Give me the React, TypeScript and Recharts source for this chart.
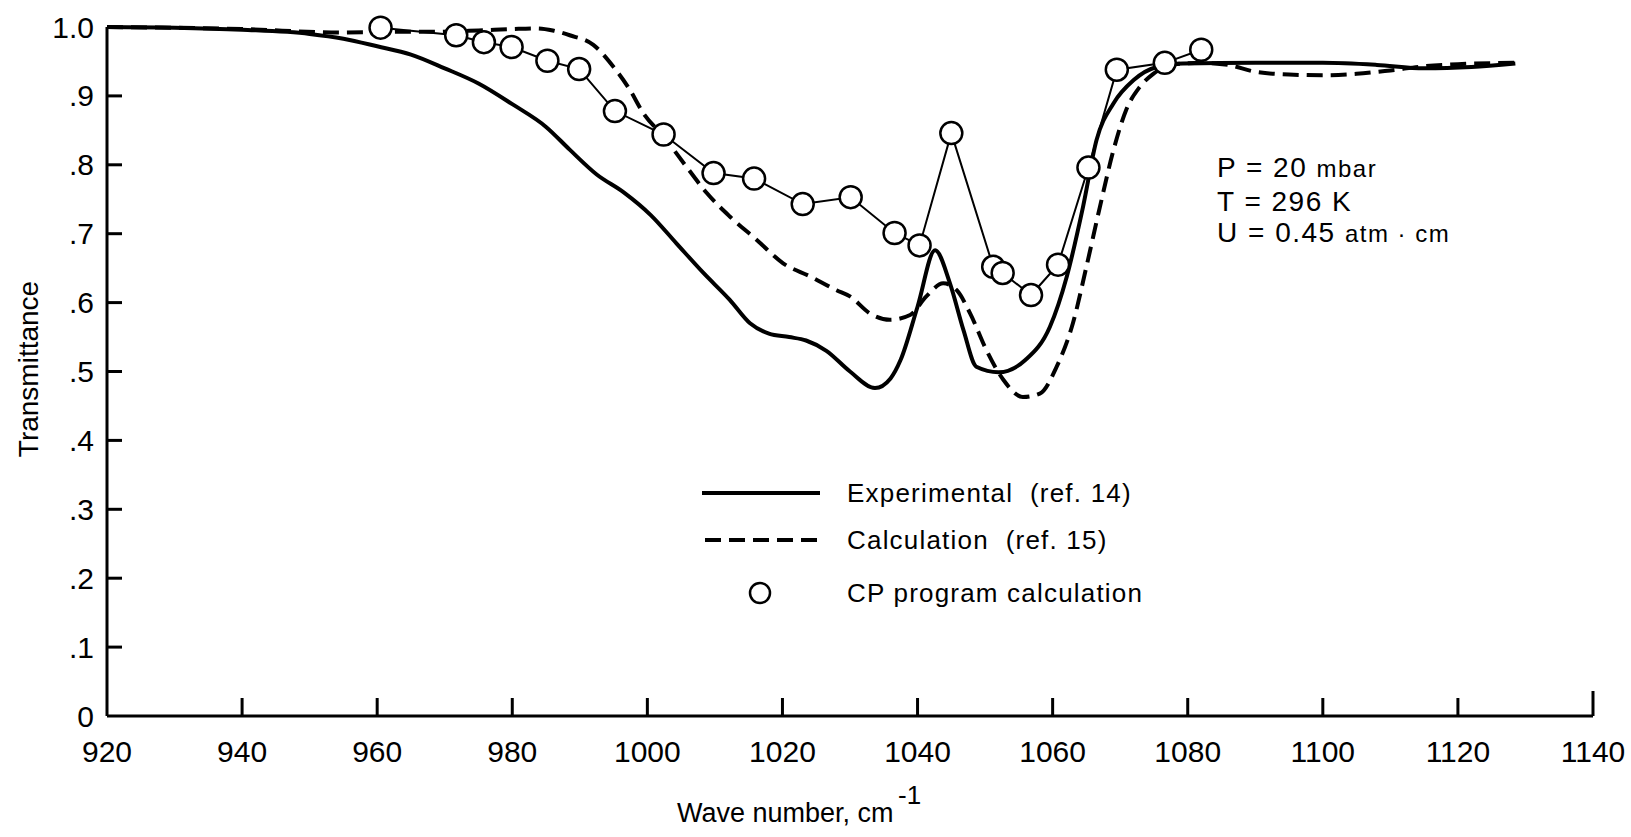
import React from 'react';
import { LineChart, Line, XAxis, YAxis } from 'recharts';

const FONT = "'Liberation Sans', Arial, sans-serif";

const xTicks = [920, 940, 960, 980, 1000, 1020, 1040, 1060, 1080, 1100, 1120, 1140];
const yTicks = [0, 0.1, 0.2, 0.3, 0.4, 0.5, 0.6, 0.7, 0.8, 0.9, 1.0];
const yTickLabels = ['0', '.1', '.2', '.3', '.4', '.5', '.6', '.7', '.8', '.9', '1.0'];

// Experimental (ref. 14)
const expWave = [920, 930, 940, 950, 955, 960, 965, 970, 975, 980, 985, 988.5, 992.5, 996.5, 1000.5, 1004.3, 1008.3, 1012.2, 1015.2, 1018, 1021, 1023.5, 1026.5, 1030, 1033.7, 1036, 1037.5, 1040, 1042.6, 1044.8, 1046.8, 1048.7, 1052, 1056, 1059.6, 1062.1, 1064.5, 1066.5, 1069, 1072, 1075.4, 1079.3, 1090, 1100, 1108, 1115, 1122, 1128.5];
const expT = [1.0, 0.999, 0.996, 0.99, 0.983, 0.972, 0.96, 0.94, 0.918, 0.888, 0.855, 0.822, 0.786, 0.76, 0.727, 0.686, 0.643, 0.604, 0.57, 0.555, 0.55, 0.545, 0.53, 0.5, 0.476, 0.49, 0.517, 0.594, 0.676, 0.628, 0.56, 0.507, 0.499, 0.517, 0.565, 0.638, 0.739, 0.836, 0.889, 0.923, 0.942, 0.947, 0.948, 0.948, 0.945, 0.94, 0.942, 0.947];

// Calculation (ref. 15)
const calcWave = [920, 940, 955, 963, 968, 975, 980, 983.6, 986, 988.5, 992, 995, 997.4, 999.4, 1002.4, 1005.8, 1008.8, 1012.2, 1016.2, 1020.1, 1024.1, 1028, 1030, 1033, 1035.9, 1038.9, 1041.3, 1043.8, 1045.8, 1047.8, 1050.2, 1052.7, 1055.6, 1058.1, 1060.6, 1063, 1065, 1067, 1069, 1070.9, 1072.9, 1074.9, 1077.4, 1082, 1086, 1090, 1095, 1100, 1105, 1110, 1115, 1120, 1128.5];
const calcT = [1.0, 0.997, 0.992, 0.993, 0.993, 0.995, 0.997, 0.998, 0.995, 0.988, 0.974, 0.942, 0.909, 0.875, 0.841, 0.797, 0.759, 0.725, 0.691, 0.657, 0.638, 0.618, 0.609, 0.584, 0.575, 0.582, 0.609, 0.628, 0.618, 0.584, 0.531, 0.488, 0.463, 0.468, 0.507, 0.57, 0.652, 0.739, 0.821, 0.88, 0.913, 0.932, 0.945, 0.948, 0.945, 0.935, 0.931, 0.93, 0.932, 0.937, 0.943, 0.946, 0.948];

// CP program calculation
const cpWave = [960.5, 971.7, 975.8, 979.9, 985.2, 989.9, 995.2, 1002.4, 1009.8, 1015.8, 1023.0, 1030.1, 1036.6, 1040.3, 1045.0, 1051.2, 1052.6, 1056.8, 1060.8, 1065.3, 1069.5, 1076.6, 1082.0];
const cpT = [0.999, 0.988, 0.978, 0.971, 0.951, 0.939, 0.878, 0.844, 0.788, 0.78, 0.743, 0.753, 0.701, 0.683, 0.846, 0.652, 0.643, 0.611, 0.655, 0.796, 0.938, 0.948, 0.967];

const legendLabels = ['Experimental\u00a0\u00a0(ref. 14)', 'Calculation\u00a0\u00a0(ref. 15)', 'CP program calculation'];

const pairs = (w: number[], t: number[]) => w.map((wn, i) => ({ wn, t: t[i] }));
const experimental = pairs(expWave, expT);
const calculation = pairs(calcWave, calcT);
const cpProgram = pairs(cpWave, cpT);

const W = 1631;
const H = 837;
const Y_TICK_MARGIN = 13;
const X_TICK_MARGIN = 20;

const YTick = (props: any) => {
  const { x, y, payload } = props;
  const ax = x + Y_TICK_MARGIN;
  const i = yTicks.indexOf(payload.value);
  return (
    <g>
      {payload.value > 0 && payload.value < 1 && (
        <line x1={ax} x2={ax + 15} y1={y} y2={y} stroke="#000" strokeWidth={3} />
      )}
      <text x={x} y={y} textAnchor="end" dominantBaseline="central" fontFamily={FONT} fontSize={30} fill="#000">
        {yTickLabels[i]}
      </text>
    </g>
  );
};

const XTick = (props: any) => {
  const { x, y, payload } = props;
  const ay = y - X_TICK_MARGIN;
  const v = payload.value;
  const len = v === 1140 ? 25 : 18;
  return (
    <g>
      {v > 920 && <line x1={x} x2={x} y1={ay} y2={ay - len} stroke="#000" strokeWidth={3} />}
      <text x={x} y={ay + 35} textAnchor="middle" dominantBaseline="central" fontFamily={FONT} fontSize={30} fill="#000">
        {v}
      </text>
    </g>
  );
};

export default function App() {
  return (
    <div style={{ position: 'absolute', left: 0, top: 0, width: W, height: H, background: '#fff' }}>
      <LineChart width={W} height={H} margin={{ top: 27, right: 38, left: 0, bottom: 0 }}>
        <XAxis
          dataKey="wn"
          type="number"
          domain={[920, 1140]}
          ticks={xTicks}
          interval={0}
          height={121}
          tickSize={0}
          tickMargin={X_TICK_MARGIN}
          tickLine={false}
          tick={<XTick />}
          axisLine={{ stroke: '#000', strokeWidth: 3 }}
          allowDataOverflow
        />
        <YAxis
          type="number"
          domain={[0, 1]}
          ticks={yTicks}
          interval={0}
          width={107}
          tickSize={0}
          tickMargin={Y_TICK_MARGIN}
          tickLine={false}
          tick={<YTick />}
          axisLine={{ stroke: '#000', strokeWidth: 3 }}
        />
        <Line
          data={experimental}
          dataKey="t"
          type="monotone"
          stroke="#000"
          strokeWidth={4}
          dot={false}
          isAnimationActive={false}
        />
        <Line
          data={calculation}
          dataKey="t"
          type="monotone"
          stroke="#000"
          strokeWidth={4}
          strokeDasharray="16 8"
          dot={false}
          isAnimationActive={false}
        />
        <Line
          data={cpProgram}
          dataKey="t"
          type="linear"
          stroke="#000"
          strokeWidth={2}
          dot={{ r: 11, fill: '#fff', stroke: '#000', strokeWidth: 2.5 }}
          isAnimationActive={false}
        />
      </LineChart>

      <svg width={W} height={H} style={{ position: 'absolute', left: 0, top: 0, pointerEvents: 'none' }}>
        <text
          x={28}
          y={369}
          transform="rotate(-90 28 369)"
          textAnchor="middle"
          dominantBaseline="central"
          fontFamily={FONT}
          fontSize={28}
        >
          Transmittance
        </text>
        <text x={677} y={822} fontFamily={FONT} fontSize={27}>
          Wave number, cm
        </text>
        <text x={898} y={804} fontFamily={FONT} fontSize={26}>
          -1
        </text>

        <g fontFamily={FONT} fill="#000" letterSpacing={1.5}>
          <text x={1217} y={177} fontSize={28}>
            P = 20 <tspan fontSize={24}>mbar</tspan>
          </text>
          <text x={1217} y={211} fontSize={28}>T = 296 K</text>
          <text x={1217} y={242} fontSize={28}>
            U = 0.45 <tspan fontSize={24}>atm · cm</tspan>
          </text>
        </g>

        <g fontFamily={FONT} fontSize={26} fill="#000" letterSpacing={1.2}>
          <line x1={702} x2={820} y1={493} y2={493} stroke="#000" strokeWidth={4} />
          <text x={847} y={493} dominantBaseline="central">{legendLabels[0]}</text>
          <line x1={705} x2={820} y1={540} y2={540} stroke="#000" strokeWidth={4} strokeDasharray="16 8" />
          <text x={847} y={540} dominantBaseline="central">{legendLabels[1]}</text>
          <circle cx={760} cy={593} r={10} fill="#fff" stroke="#000" strokeWidth={2.5} />
          <text x={847} y={593} dominantBaseline="central">{legendLabels[2]}</text>
        </g>
      </svg>
    </div>
  );
}
